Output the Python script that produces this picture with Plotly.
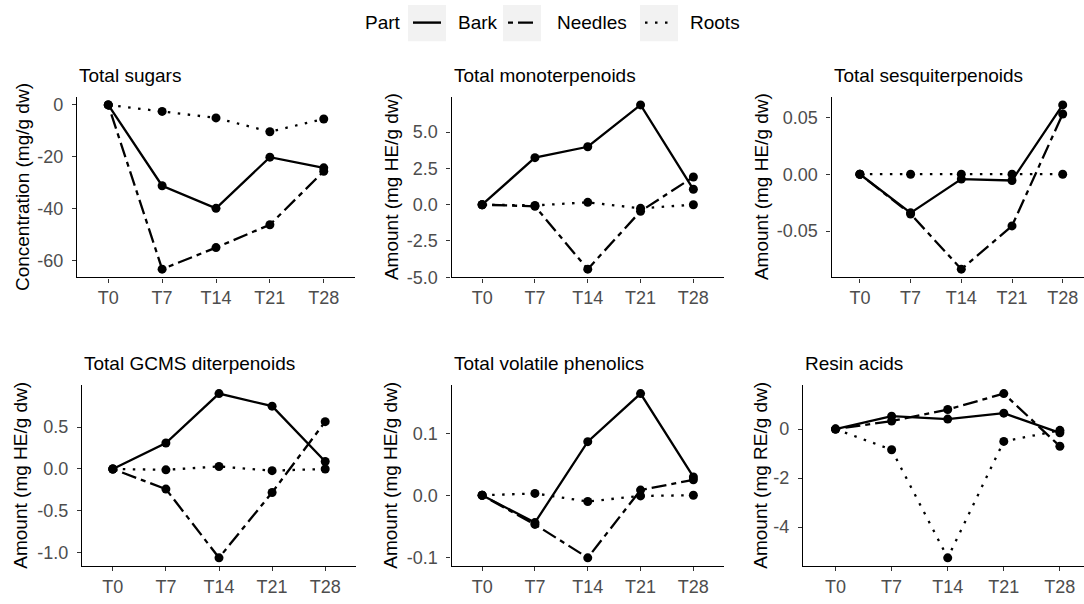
import plotly.graph_objects as go

# ---------------- data ----------------
times = ["T0", "T7", "T14", "T21", "T28"]
parts = ["Bark", "Needles", "Roots"]

panel_titles = ["Total sugars", "Total monoterpenoids", "Total sesquiterpenoids",
                "Total GCMS diterpenoids", "Total volatile phenolics", "Resin acids"]
y_titles = ["Concentration (mg/g dw)", "Amount (mg HE/g dw)", "Amount (mg HE/g dw)",
            "Amount (mg HE/g dw)", "Amount (mg HE/g dw)", "Amount (mg RE/g dw)"]

sugars_bark = [0, -31.1, -39.8, -20.1, -24.2]
sugars_needles = [0, -63.2, -54.9, -46.1, -25.5]
sugars_roots = [0, -2.5, -5.0, -10.3, -5.4]

mono_bark = [0, 3.24, 3.99, 6.87, 1.06]
mono_needles = [0, -0.11, -4.44, -0.45, 1.91]
mono_roots = [0, -0.05, 0.16, -0.25, 0.0]

sesq_bark = [0, -0.034, -0.0043, -0.0055, 0.061]
sesq_needles = [0, -0.035, -0.0836, -0.0455, 0.053]
sesq_roots = [0, 0.0, 0.0, 0.0, 0.0]

dite_bark = [0, 0.31, 0.90, 0.75, 0.09]
dite_needles = [0, -0.24, -1.06, -0.28, 0.565]
dite_roots = [0, -0.01, 0.03, -0.02, 0.0]

phen_bark = [0, -0.044, 0.0865, 0.164, 0.0296]
phen_needles = [0, -0.047, -0.1008, 0.0084, 0.025]
phen_roots = [0, 0.003, -0.01, -0.001, 0.0]

resin_bark = [0, 0.53, 0.41, 0.65, -0.15]
resin_needles = [0, 0.33, 0.80, 1.45, -0.70]
resin_roots = [0, -0.84, -5.25, -0.50, -0.05]

tick_vals = [[0, -20, -40, -60], [5, 2.5, 0, -2.5, -5], [0.05, 0, -0.05],
             [0.5, 0, -0.5, -1.0], [0.1, 0, -0.1], [0, -2, -4]]
tick_text = [["0", "-20", "-40", "-60"], ["5.0", "2.5", "0.0", "-2.5", "-5.0"],
             ["0.05", "0.00", "-0.05"], ["0.5", "0.0", "-0.5", "-1.0"],
             ["0.1", "0.0", "-0.1"], ["0", "-2", "-4"]]

panels = [
    (sugars_bark, sugars_needles, sugars_roots),
    (mono_bark, mono_needles, mono_roots),
    (sesq_bark, sesq_needles, sesq_roots),
    (dite_bark, dite_needles, dite_roots),
    (phen_bark, phen_needles, phen_roots),
    (resin_bark, resin_needles, resin_roots),
]

# ---------------- styling / layout ----------------
W, H = 1084, 604
FONT = "Liberation Sans, Arial, sans-serif"
dashes = {"Bark": "solid", "Needles": "5px,5px,15px,5px", "Roots": "2.5px,7.5px"}

# panel pixel boxes: (left, right, top, bottom) and x ranges
boxes = [
    (77, 355, 97.5, 281.5), (451.5, 724, 97.5, 281.5), (831.5, 1084, 97.5, 281.5),
    (82, 356, 391.5, 575.5), (451.5, 724, 391.5, 575.5), (803, 1084, 391.5, 575.5),
]
xranges = [[-0.58, 4.58], [-0.58, 4.58], [-0.56, 4.42],
           [-0.58, 4.58], [-0.58, 4.58], [-0.58, 4.43]]
ytitle_x = [22, 391, 761, 21, 391, 761]

fig = go.Figure()
layout = {}
annotations = []
shapes = []

for i, (series, title, ytitle) in enumerate(zip(panels, panel_titles, y_titles)):
    n = "" if i == 0 else str(i + 1)
    xa, ya = "x" + n, "y" + n
    for part, vals in zip(parts, series):
        fig.add_trace(go.Scatter(
            x=times, y=vals, mode="lines+markers", name=part, showlegend=False,
            line=dict(color="black", width=2.3, dash=dashes[part]),
            marker=dict(color="black", size=9),
            xaxis=xa, yaxis=ya))
    allv = [v for s in series for v in s]
    lo, hi = min(allv), max(allv)
    pad = (hi - lo) * 0.05
    l, r, t, b = boxes[i]
    axis_common = dict(showgrid=False, zeroline=False, showline=True, linecolor="black",
                       linewidth=1.3, ticks="outside", ticklen=4, tickwidth=1.2,
                       tickcolor="#333333", tickfont=dict(family=FONT, size=18, color="#4d4d4d"))
    layout["xaxis" + n] = dict(axis_common, domain=[l / W, r / W], anchor=ya,
                               type="category", categoryorder="array", categoryarray=times,
                               range=xranges[i], ticklabeloverflow="allow")
    layout["yaxis" + n] = dict(axis_common, domain=[1 - b / H, 1 - t / H], anchor=xa,
                               range=[lo - pad, hi + pad], tickvals=tick_vals[i],
                               ticktext=tick_text[i], ticklabelstandoff=5)
    annotations.append(dict(text=title, xref="paper", yref="paper", x=l / W,
                            y=1 - (t - 22) / H, xanchor="left", yanchor="middle",
                            showarrow=False, font=dict(family=FONT, size=19, color="black")))
    annotations.append(dict(text=ytitle, xref="paper", yref="paper", x=ytitle_x[i] / W,
                            y=1 - ((t + b) / 2) / H, xanchor="center", yanchor="middle",
                            textangle=-90, showarrow=False,
                            font=dict(family=FONT, size=19, color="black")))

# ---------------- manual legend ----------------
ly = 22
annotations.append(dict(text="Part", xref="paper", yref="paper", x=363 / W, y=1 - ly / H,
                        xanchor="left", yanchor="middle", showarrow=False,
                        font=dict(family=FONT, size=19, color="black")))
legend_items = [("Bark", 408, 456), ("Needles", 503, 555), ("Roots", 640, 688)]
for part, kx, tx in legend_items:
    shapes.append(dict(type="rect", xref="paper", yref="paper", x0=kx / W, x1=(kx + 38) / W,
                       y0=1 - 41 / H, y1=1 - 4 / H, fillcolor="#f2f2f2", line=dict(width=0),
                       layer="below"))
    shapes.append(dict(type="line", xref="paper", yref="paper", x0=(kx + 5) / W,
                       x1=(kx + 33) / W, y0=1 - ly / H, y1=1 - ly / H,
                       line=dict(color="black", width=2.4, dash=dashes[part])))
    annotations.append(dict(text=part, xref="paper", yref="paper", x=tx / W, y=1 - ly / H,
                            xanchor="left", yanchor="middle", showarrow=False,
                            font=dict(family=FONT, size=19, color="black")))

fig.update_layout(**layout)
fig.update_layout(width=W, height=H, margin=dict(l=0, r=0, t=0, b=0),
                  paper_bgcolor="white", plot_bgcolor="white",
                  annotations=annotations, shapes=shapes, showlegend=False,
                  font=dict(family=FONT, color="black"))

fig.write_html("out.html", config={"displayModeBar": False},
               post_script="document.body.style.margin='0';document.body.style.overflow='hidden';")
